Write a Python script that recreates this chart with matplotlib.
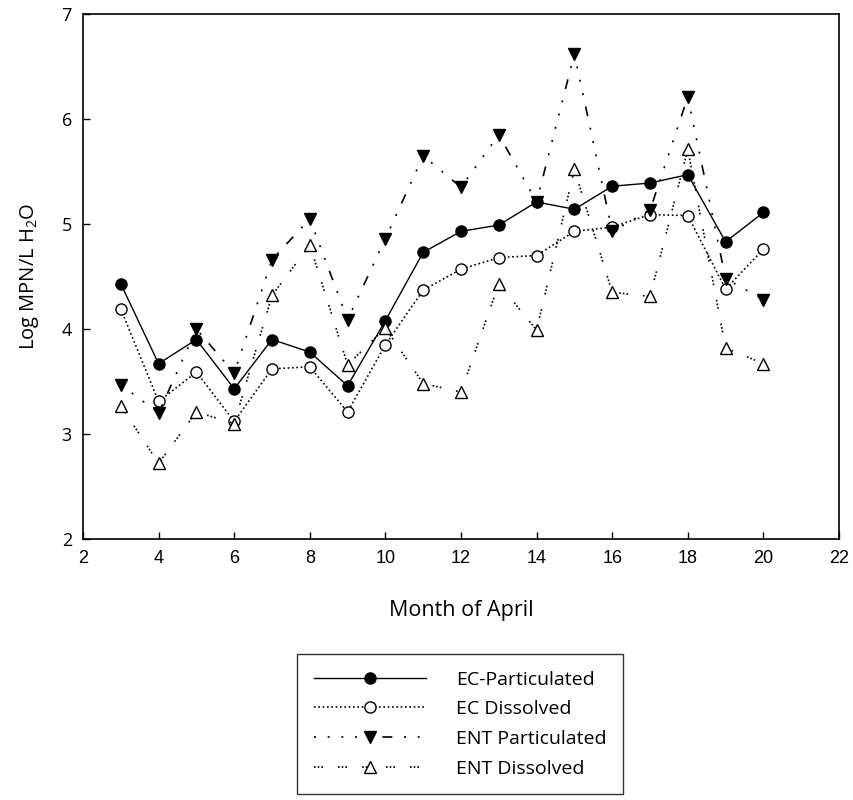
import numpy as np
import matplotlib
matplotlib.use("Agg")
import matplotlib.pyplot as plt

# days of April
days = [3, 4, 5, 6, 7, 8, 9, 10, 11, 12, 13, 14, 15, 16, 17, 18, 19, 20]

ec_part = [4.43, 3.67, 3.90, 3.43, 3.90, 3.78, 3.46, 4.08, 4.73, 4.93, 4.99, 5.21,
           5.14, 5.36, 5.39, 5.47, 4.83, 5.11]
ec_diss = [4.19, 3.31, 3.59, 3.12, 3.62, 3.64, 3.21, 3.85, 4.37, 4.57, 4.68, 4.70,
           4.93, 4.97, 5.09, 5.08, 4.38, 4.76]
ent_part = [3.47, 3.20, 4.00, 3.58, 4.66, 5.05, 4.09, 4.86, 5.65, 5.35, 5.85, 5.21,
            6.62, 4.93, 5.13, 6.21, 4.48, 4.28]
ent_diss = [3.27, 2.72, 3.21, 3.10, 4.32, 4.80, 3.66, 4.01, 3.48, 3.40, 4.43, 3.99,
            5.52, 4.35, 4.31, 5.71, 3.82, 3.67]

labels = ['EC-Particulated', 'EC Dissolved', 'ENT Particulated', 'ENT Dissolved']

fig = plt.figure(figsize=(8.54, 8.0), dpi=100)
ax = fig.add_axes([83 / 854, 1 - 539 / 800, 756 / 854, 525 / 800])

ax.plot(days, ec_part, color='black', lw=1.0, ls='-', marker='o', ms=8,
        mfc='black', mec='black', label=labels[0])
ax.plot(days, ec_diss, color='black', lw=1.2, ls=(0, (1, 1.6)), marker='o', ms=8,
        mfc='white', mec='black', mew=1.0, label=labels[1])
ax.plot(days, ent_part, color='black', lw=1.2,
        ls=(0, (1.2, 7, 1.2, 7, 1.2, 7, 1.2, 7, 1.2, 7, 6, 7)), marker='v', ms=9,
        mfc='black', mec='black', label=labels[2])
ax.plot(days, ent_diss, color='black', lw=1.2, ls=(0, (1, 1.2, 1, 1.2, 1, 9)), marker='^', ms=9,
        mfc='white', mec='black', mew=1.0, label=labels[3])

ax.set_xlim(2, 22)
ax.set_ylim(2, 7)
ax.set_xticks(np.arange(2, 23, 2))
ax.set_yticks(np.arange(2, 8, 1))
ax.tick_params(direction='in', length=5, width=1, top=False, right=False, pad=8)
for lab in ax.get_xticklabels():
    lab.set_fontfamily('Liberation Sans')
    lab.set_fontsize(13)
for lab in ax.get_yticklabels():
    lab.set_fontfamily('Open Sans')
    lab.set_fontsize(13)
for sp in ax.spines.values():
    sp.set_linewidth(1.2)

ax.set_xlabel('Month of April', fontfamily='Open Sans', fontsize=15.5, labelpad=24)
ax.set_ylabel(r'Log MPN/L H$_\mathregular{2}$O', fontfamily='Open Sans', fontsize=14.5, labelpad=15)

leg = fig.legend(loc='upper center', bbox_to_anchor=(460 / 854, 1 - 654 / 800),
                 prop={'family': 'Open Sans', 'size': 14}, handlelength=5.8,
                 handletextpad=1.5, borderpad=0.85, labelspacing=0.6,
                 frameon=True, fancybox=False, edgecolor='black', borderaxespad=0)
leg.get_frame().set_linewidth(1.0)

fig.savefig('out.png', dpi=100)
